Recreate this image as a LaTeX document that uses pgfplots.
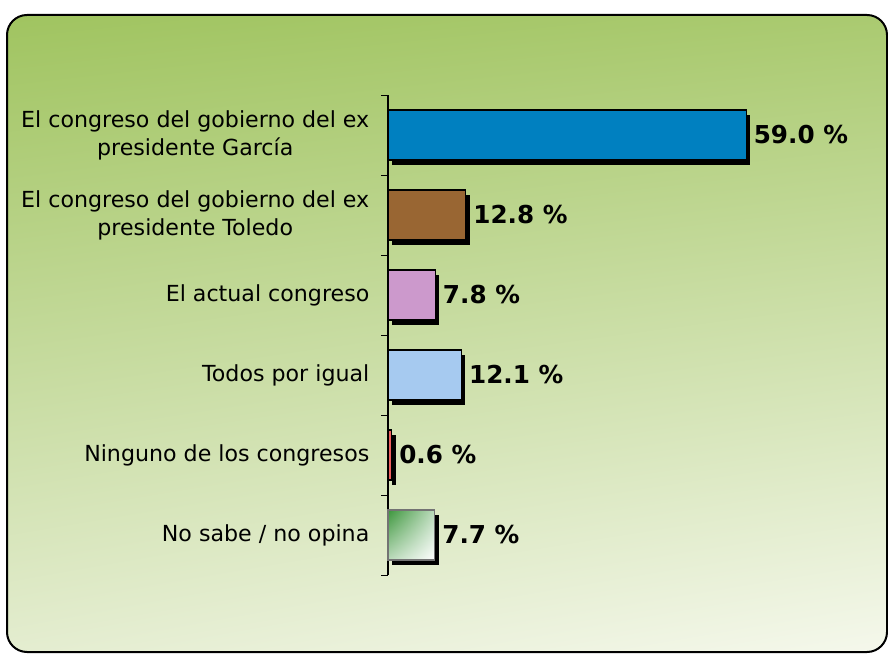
\documentclass[border=0pt]{standalone}
\usepackage{pgfplots}
\pgfplotsset{compat=1.18}
\usepackage{fontspec}
\setmainfont{DejaVu Sans}
\usetikzlibrary{shadings}
\definecolor{cblue}{RGB}{0,128,192}
\definecolor{cbrown}{RGB}{153,102,51}
\definecolor{cpink}{RGB}{204,153,204}
\definecolor{clblue}{RGB}{166,202,240}
\definecolor{cred}{RGB}{240,96,96}
\definecolor{cgreen}{RGB}{60,150,60}
\definecolor{bgUL}{RGB}{160,196,96}
\definecolor{bgUR}{RGB}{170,202,112}
\definecolor{bgLL}{RGB}{228,237,208}
\definecolor{bgLR}{RGB}{245,248,236}
\begin{document}
\begin{tikzpicture}
\path (0,0) rectangle (666pt,489.75pt);
\shade[upper left=bgUL, upper right=bgUR, lower left=bgLL, lower right=bgLR, rounded corners=15pt]
  (5.25pt,0.75pt) rectangle (665.25pt,478.5pt);
\draw[line width=1.5pt, rounded corners=15pt] (5.25pt,0.75pt) rectangle (665.25pt,478.5pt);
\begin{axis}[
  at={(291pt,58.5pt)}, anchor=south west,
  scale only axis, width=318.7pt, height=360pt,
  xbar, xmin=0, xmax=70,
  ymin=-0.5, ymax=5.5, y dir=reverse,
  axis x line=none, axis y line*=left,
  ytick={0,1,2,3,4,5},
  yticklabels={{El congreso del gobierno del ex\\presidente García},{El congreso del gobierno del ex\\presidente Toledo},{El actual congreso},{Todos por igual},{Ninguno de los congresos},{No sabe / no opina}},
  yticklabel style={align=center, font=\fontsize{16.6}{21}\selectfont, xshift=-10.5pt},
  major tick length=0pt,
  minor ytick={-0.5,0.5,1.5,2.5,3.5,4.5,5.5},
  minor tick length=5.25pt, tick align=outside,
  tick style={black, line width=0.6pt},
  axis line style={black, line width=0.8pt},
  /pgf/number format/assume math mode=true,
  bar width=37.5pt,
  nodes near coords={\pgfmathprintnumber[fixed,fixed zerofill,precision=1]{\pgfplotspointmeta}~\%},
  nodes near coords style={anchor=west, font=\fontsize{18.5}{20}\selectfont\bfseries, xshift=2pt},
  every axis plot/.append style={draw=black, line width=0.8pt, bar shift=0pt,
     preaction={fill=black, draw=none, transform canvas={shift={(3pt,-3.5pt)}}}},
  clip=false,
]
\addplot[fill=cblue, bar shift=0pt] coordinates {(59.0,0)};
\addplot[fill=cbrown, bar shift=0pt] coordinates {(12.8,1)};
\addplot[fill=cpink, bar shift=0pt] coordinates {(7.8,2)};
\addplot[fill=clblue, bar shift=0pt] coordinates {(12.1,3)};
\addplot[fill=cred, bar shift=0pt] coordinates {(0.6,4)};
\addplot[draw=none, fill=none, bar shift=0pt,
  postaction={shade, upper left=cgreen, upper right=cgreen!35!white, lower left=cgreen!35!white, lower right=white},
  postaction={draw=black!55, line width=0.8pt}] coordinates {(7.7,5)};
\end{axis}
\end{tikzpicture}
\end{document}
